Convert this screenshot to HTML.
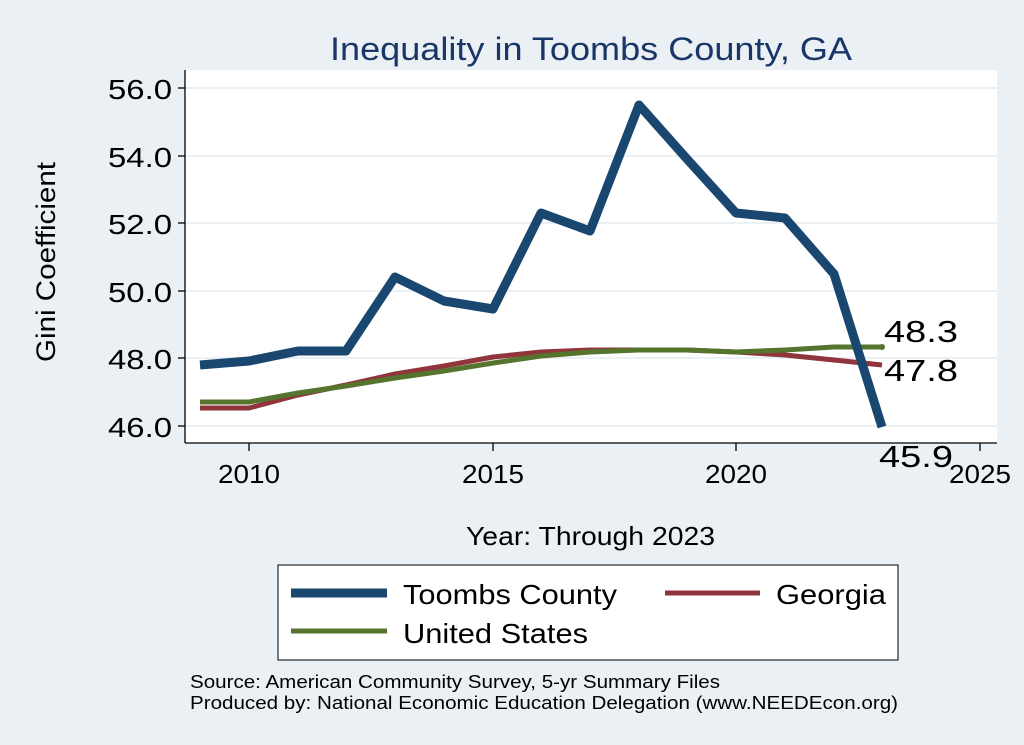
<!DOCTYPE html>
<html><head><style>
body{margin:0;background:#eaf0f3;}
svg{display:block;font-family:"Liberation Sans",Arial,sans-serif;}
</style></head><body>
<svg width="1024" height="745" viewBox="0 0 1024 745">
<rect x="0" y="0" width="1024" height="745" fill="#eaf0f3"/>
<rect x="185" y="70" width="812" height="373" fill="#fff"/>
<g stroke="#eaf0f3" stroke-width="2">
<line x1="185" x2="997" y1="88" y2="88"/><line x1="185" x2="997" y1="156" y2="156"/>
<line x1="185" x2="997" y1="223" y2="223"/><line x1="185" x2="997" y1="291" y2="291"/>
<line x1="185" x2="997" y1="358" y2="358"/><line x1="185" x2="997" y1="426" y2="426"/>
</g>
<g stroke="#000" stroke-width="1.3">
<line x1="185" y1="70" x2="185" y2="443"/><line x1="185" y1="443" x2="997" y2="443"/>
<line x1="178" x2="185" y1="88" y2="88"/><line x1="178" x2="185" y1="156" y2="156"/>
<line x1="178" x2="185" y1="223" y2="223"/><line x1="178" x2="185" y1="291" y2="291"/>
<line x1="178" x2="185" y1="358" y2="358"/><line x1="178" x2="185" y1="426" y2="426"/>
<line x1="249" x2="249" y1="443" y2="451"/><line x1="493" x2="493" y1="443" y2="451"/>
<line x1="736" x2="736" y1="443" y2="451"/><line x1="980" x2="980" y1="443" y2="451"/>
</g>
<g font-size="28" fill="#000" lengthAdjust="spacingAndGlyphs">
<text x="108" y="99" textLength="64" lengthAdjust="spacingAndGlyphs">56.0</text>
<text x="108" y="167" textLength="64" lengthAdjust="spacingAndGlyphs">54.0</text>
<text x="108" y="234" textLength="64" lengthAdjust="spacingAndGlyphs">52.0</text>
<text x="108" y="302" textLength="64" lengthAdjust="spacingAndGlyphs">50.0</text>
<text x="108" y="369" textLength="64" lengthAdjust="spacingAndGlyphs">48.0</text>
<text x="108" y="437" textLength="64" lengthAdjust="spacingAndGlyphs">46.0</text>
</g>
<g font-size="26">
<text x="218" y="483" textLength="62" lengthAdjust="spacingAndGlyphs">2010</text>
<text x="462" y="483" textLength="62" lengthAdjust="spacingAndGlyphs">2015</text>
<text x="705" y="483" textLength="62" lengthAdjust="spacingAndGlyphs">2020</text>
<text x="949" y="483" textLength="62" lengthAdjust="spacingAndGlyphs">2025</text>
</g>
<text x="466" y="545" font-size="26" textLength="249" lengthAdjust="spacingAndGlyphs">Year: Through 2023</text>
<text transform="translate(55,362) rotate(-90)" font-size="27" textLength="200" lengthAdjust="spacingAndGlyphs">Gini Coefficient</text>
<text x="330" y="60" font-size="32" fill="#1a3668" textLength="522" lengthAdjust="spacingAndGlyphs">Inequality in Toombs County, GA</text>
<g fill="none" stroke-linejoin="round">
<polyline stroke="#90353b" stroke-width="5" points="200,408 249,408 298,395 346,385 395,374 444,366 493,357 541,352 590,350 639,350 687,350 736,352 785,355 834,360 882,365"/>
<polyline stroke="#55752f" stroke-width="5" points="200,402 249,402 298,393 346,386 395,378 444,371 493,363 541,356 590,352 639,350 687,350 736,352 785,350 834,347 882,347"/>
<polyline stroke="#1a476f" stroke-width="9" points="200,365 249,361 298,351 346,351 395,277 444,301 493,309 541,213 590,231 639,105 687,159 736,213 785,218 834,274 882,427"/>
</g>
<circle cx="882" cy="347" r="3" fill="#55752f"/>
<g font-size="31">
<text x="884" y="342" textLength="74" lengthAdjust="spacingAndGlyphs">48.3</text>
<text x="884" y="381" textLength="74" lengthAdjust="spacingAndGlyphs">47.8</text>
<text x="879" y="467" textLength="74" lengthAdjust="spacingAndGlyphs">45.9</text>
</g>
<rect x="278" y="565" width="620" height="95" fill="#fff" stroke="#000" stroke-width="1"/>
<line x1="291" x2="387" y1="593" y2="593" stroke="#1a476f" stroke-width="9"/>
<text x="403" y="604" font-size="28" textLength="214" lengthAdjust="spacingAndGlyphs">Toombs County</text>
<line x1="665" x2="760" y1="593" y2="593" stroke="#90353b" stroke-width="5"/>
<text x="776" y="604" font-size="28" textLength="110" lengthAdjust="spacingAndGlyphs">Georgia</text>
<line x1="291" x2="387" y1="631" y2="631" stroke="#55752f" stroke-width="5"/>
<text x="403" y="643" font-size="28" textLength="185" lengthAdjust="spacingAndGlyphs">United States</text>
<text x="190" y="688" font-size="18" textLength="530" lengthAdjust="spacingAndGlyphs">Source: American Community Survey, 5-yr Summary Files</text>
<text x="190" y="709" font-size="18" textLength="708" lengthAdjust="spacingAndGlyphs">Produced by: National Economic Education Delegation (www.NEEDEcon.org)</text>
</svg>
</body></html>
